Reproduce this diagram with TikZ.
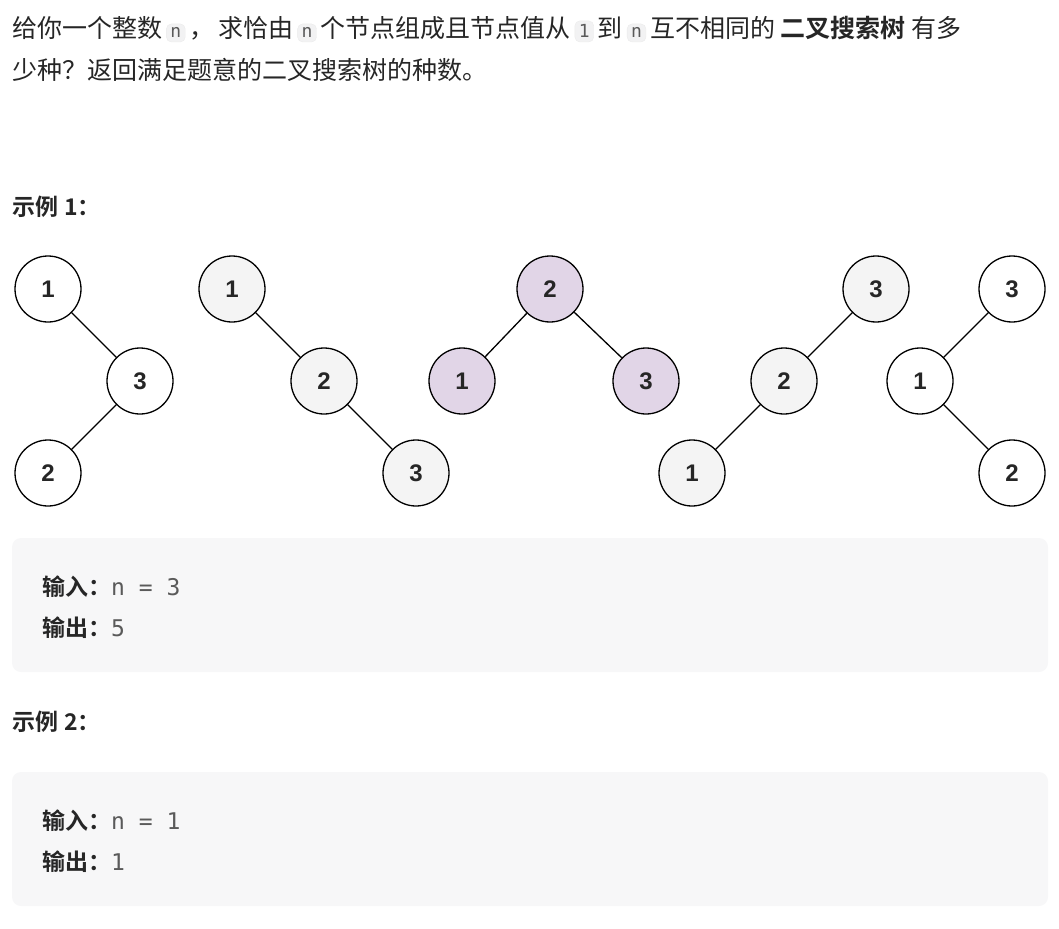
\documentclass[tikz,border=0pt]{standalone}
\usepackage{fontspec}
\setmainfont{Noto Sans CJK SC}
\newfontfamily\cjkb{Noto Sans CJK SC Bold}
\newfontfamily\codef{DejaVu Sans Mono}
\newfontfamily\numf{Liberation Sans}
\definecolor{txt}{HTML}{262626}
\definecolor{codebg}{HTML}{F2F2F3}
\definecolor{boxbg}{HTML}{F7F7F8}
\definecolor{graynode}{HTML}{F4F4F4}
\definecolor{purp}{HTML}{E1D5E7}
\definecolor{codetxt}{HTML}{5A5A5A}
\newcommand{\ic}[1]{\hspace{4pt}\tikz[baseline=(c.base)]\node[fill=codebg,draw=black!8,rounded corners=5pt,inner xsep=4pt,inner ysep=4pt,text=codetxt,font=\codef\fontsize{18}{18}\selectfont](c){#1};\hspace{4pt}}
\begin{document}
\begin{tikzpicture}[x=1pt,y=-1pt,
  tn/.style={circle,draw=black,line width=1.3pt,minimum size=66pt,inner sep=0pt,font=\numf\bfseries\fontsize{24}{24}\selectfont,text=txt},
  gn/.style={tn,fill=graynode},
  pn/.style={tn,fill=purp},
  wn/.style={tn,fill=white},
  ed/.style={line width=1.3pt},
  para/.style={anchor=base west,inner sep=0pt,text=txt,font=\fontsize{25}{25}\selectfont},
  hd/.style={para,font=\cjkb\fontsize{23}{23}\selectfont},
  codebox/.style={fill=boxbg,rounded corners=9pt}]
\useasboundingbox (0,0) rectangle (1059,928);
\node[para] (l1) at (12,38) {给你一个整数\ic{n}，\hspace{4pt}求恰由\ic{n}个节点组成且节点值从\ic{1}到\ic{n}互不相同的 {\cjkb 二叉搜索树} 有多};
\node[para] (l2) at (12,80) {少种？返回满足题意的二叉搜索树的种数。};
\node[hd] (e1) at (12,215) {示例\hspace{6pt}1：};
% trees
\node[wn] (a1) at (48,289) {1};
\node[wn] (a3) at (140,381) {3};
\node[wn] (a2) at (48,473) {2};
\draw[ed] (a1) -- (a3); \draw[ed] (a3) -- (a2);
\node[gn] (b1) at (232,289) {1};
\node[gn] (b2) at (324,381) {2};
\node[gn] (b3) at (416,473) {3};
\draw[ed] (b1) -- (b2); \draw[ed] (b2) -- (b3);
\node[pn] (c2) at (550,289) {2};
\node[pn] (c1) at (462,381) {1};
\node[pn] (c3) at (646,381) {3};
\draw[ed] (c2) -- (c1); \draw[ed] (c2) -- (c3);
\node[gn] (d3) at (876,289) {3};
\node[gn] (d2) at (784,381) {2};
\node[gn] (d1) at (692,473) {1};
\draw[ed] (d3) -- (d2); \draw[ed] (d2) -- (d1);
\node[wn] (f3) at (1012,289) {3};
\node[wn] (f1) at (920,381) {1};
\node[wn] (f2) at (1012,473) {2};
\draw[ed] (f3) -- (f1); \draw[ed] (f1) -- (f2);
% example boxes
\path[codebox] (12,538) rectangle (1048,672);
\node[para] (i1) at (42,595) {{\cjkb\fontsize{23}{23}\selectfont 输入：}{\codef\fontsize{23}{23}\selectfont\color{codetxt}n = 3}};
\node[para] (o1) at (42,636) {{\cjkb\fontsize{23}{23}\selectfont 输出：}{\codef\fontsize{23}{23}\selectfont\color{codetxt}5}};
\node[hd] (e2) at (12,730) {示例\hspace{6pt}2：};
\path[codebox] (12,772) rectangle (1048,906);
\node[para] (i2) at (42,829) {{\cjkb\fontsize{23}{23}\selectfont 输入：}{\codef\fontsize{23}{23}\selectfont\color{codetxt}n = 1}};
\node[para] (o2) at (42,870) {{\cjkb\fontsize{23}{23}\selectfont 输出：}{\codef\fontsize{23}{23}\selectfont\color{codetxt}1}};
\end{tikzpicture}
\end{document}
